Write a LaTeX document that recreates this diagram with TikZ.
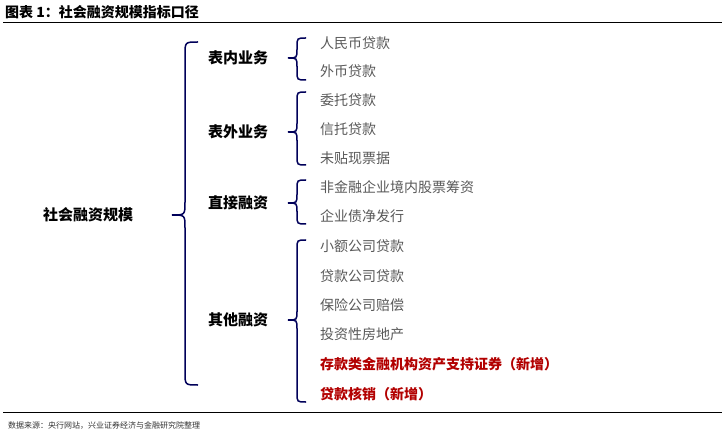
\documentclass[tikz,border=0pt]{standalone}
\usepackage{fontspec}
\setmainfont{Noto Sans CJK SC}
\begin{document}
\begin{tikzpicture}[x=1pt,y=-1pt,
  item/.style={anchor=west,inner sep=0,font=\fontsize{14}{16}\selectfont,text=black!65},
  red item/.style={anchor=west,inner sep=0,font=\fontsize{14}{16}\selectfont\bfseries,text=red!70!black},
  grp/.style={anchor=west,inner sep=0,font=\fontsize{15}{17}\selectfont\bfseries},
  br/.style={draw=blue!35!black,line width=1.5pt}]
\useasboundingbox (0,0) rectangle (725,438);
\newcommand\mybrace[5]{% x, width, top, mid, bottom
  \draw[br] (#1+#2,#3) .. controls (#1+#2/2,#3) and (#1+#2/2,#3) .. (#1+#2/2,#3+#2/2)
    -- (#1+#2/2,#4-#2/2) .. controls (#1+#2/2,#4) and (#1+#2/2,#4) .. (#1,#4)
    .. controls (#1+#2/2,#4) and (#1+#2/2,#4) .. (#1+#2/2,#4+#2/2)
    -- (#1+#2/2,#5-#2/2) .. controls (#1+#2/2,#5) and (#1+#2/2,#5) .. (#1+#2,#5);}
\node[anchor=west,inner sep=0,font=\fontsize{14}{16}\selectfont\bfseries] (title) at (5,12) {图表 1：社会融资规模指标口径};
\draw[line width=0.8pt] (3,22) -- (722,22);
\draw[line width=0.8pt] (3,412) -- (722,412);
\node[anchor=west,inner sep=0,font=\fontsize{8}{10}\selectfont,text=black!80] (src) at (8,426) {数据来源：央行网站，兴业证券经济与金融研究院整理};
\node[anchor=center,inner sep=0,font=\fontsize{15}{17}\selectfont\bfseries] (root) at (88,215) {社会融资规模};
\mybrace{172}{26}{42}{215}{385}
\node[grp] (g1) at (208,58) {表内业务};
\node[grp] (g2) at (208,132) {表外业务};
\node[grp] (g3) at (208,203) {直接融资};
\node[grp] (g4) at (208,320) {其他融资};
\mybrace{288}{18}{38}{58}{80}
\mybrace{288}{18}{92}{132}{165}
\mybrace{288}{18}{180}{203}{224}
\mybrace{288}{18}{240}{320}{402}
\node[item] (a1) at (320,43) {人民币贷款};
\node[item] (a2) at (320,71) {外币贷款};
\node[item] (b1) at (320,100) {委托贷款};
\node[item] (b2) at (320,129) {信托贷款};
\node[item] (b3) at (320,158) {未贴现票据};
\node[item] (c1) at (320,187) {非金融企业境内股票筹资};
\node[item] (c2) at (320,216) {企业债净发行};
\node[item] (d1) at (320,246) {小额公司贷款};
\node[item] (d2) at (320,276) {贷款公司贷款};
\node[item] (d3) at (320,305) {保险公司赔偿};
\node[item] (d4) at (320,334) {投资性房地产};
\node[red item] (d5) at (320,364) {存款类金融机构资产支持证券（新增）};
\node[red item] (d6) at (320,394) {贷款核销（新增）};
\end{tikzpicture}
\end{document}
